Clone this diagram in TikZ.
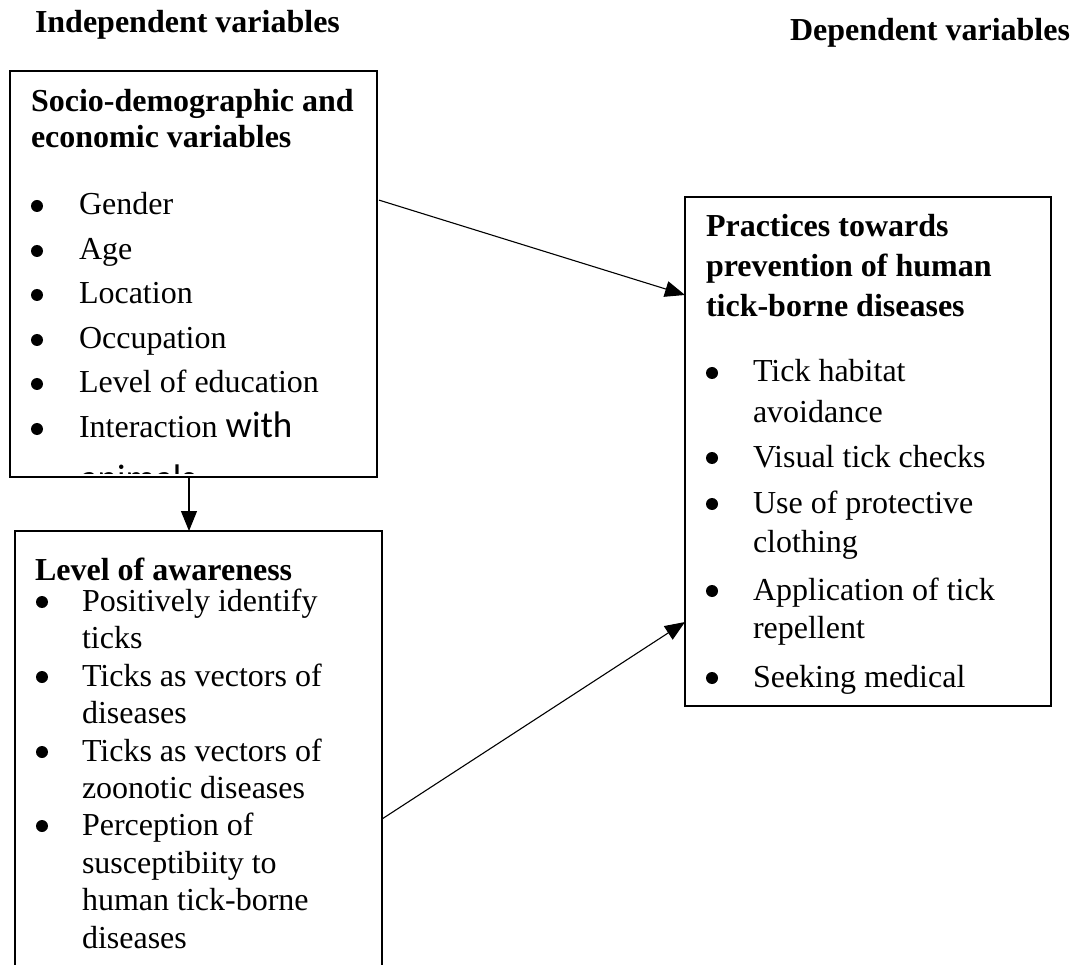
\documentclass[tikz,border=0pt]{standalone}
\usepackage{fontspec}
\setmainfont{Liberation Serif}
\newfontfamily\calib{Carlito}
\usetikzlibrary{arrows.meta,calc}
\begin{document}
\begin{tikzpicture}[x=1pt,y=-1pt,
  box/.style={draw, line width=1.2pt, rectangle, anchor=north west, inner sep=0pt, outer sep=0pt},
  txt/.style={anchor=base west, inner sep=0pt, outer sep=0pt, font=\fontsize{32}{38}\selectfont},
  ttl/.style={anchor=base west, inner sep=0pt, outer sep=0pt, font=\fontsize{32}{38}\selectfont\bfseries},
  bul/.style={circle, fill=black, inner sep=0pt, minimum size=12pt},
  arr/.style={-{Triangle[length=20pt,width=16pt]}, line width=1.1pt}]
\useasboundingbox (0,0) rectangle (1079,965);

% headers
\node[ttl] (hind) at (35,33) {Independent variables};
\node[ttl, anchor=base east] (hdep) at (1070,41) {Dependent variables};

% boxes
\node[box, minimum width=367pt, minimum height=406pt] (sde) at (10,71) {};
\node[box, minimum width=367pt, minimum height=450pt] (aware) at (15,531) {};
\node[box, minimum width=366pt, minimum height=509pt] (prac) at (685,197) {};

% top box text
\node[ttl] (s1) at (31,112) {Socio-demographic and};
\node[ttl] (s2) at (31,148) {economic variables};
\node[bul] (sb1) at (37,206) {};
\node[txt] (st1) at (79,215) {Gender};
\node[bul] (sb2) at (37,251) {};
\node[txt] (st2) at (79,260) {Age};
\node[bul] (sb3) at (37,295) {};
\node[txt] (st3) at (79,304) {Location};
\node[bul] (sb4) at (37,340) {};
\node[txt] (st4) at (79,349) {Occupation};
\node[bul] (sb5) at (37,384) {};
\node[txt] (st5) at (79,393) {Level of education};
\node[bul] (sb6) at (37,429) {};
\node[txt] (st6) at (79,438) {Interaction {\calib\fontsize{37}{44}\selectfont with}};
\begin{scope}
\clip (10,71) rectangle (377,473);
\node[txt] (st7) at (80,490) {\calib\fontsize{37}{44}\selectfont animals};
\end{scope}

% bottom box text
\node[ttl] (a0) at (35,580) {Level of awareness};
\node[bul] (ab1) at (42,602) {};
\node[txt] (at1) at (82,611) {Positively identify};
\node[txt] (at2) at (82,648) {ticks};
\node[bul] (ab2) at (42,677) {};
\node[txt] (at3) at (82,686) {Ticks as vectors of};
\node[txt] (at4) at (82,723) {diseases};
\node[bul] (ab3) at (42,752) {};
\node[txt] (at5) at (82,761) {Ticks as vectors of};
\node[txt] (at6) at (82,798) {zoonotic diseases};
\node[bul] (ab4) at (42,826) {};
\node[txt] (at7) at (82,835) {Perception of};
\node[txt] (at8) at (82,873) {susceptibiity to};
\node[txt] (at9) at (82,910) {human tick-borne};
\node[txt] (at10) at (82,948) {diseases};

% right box text
\node[ttl] (p1) at (706,237) {Practices towards};
\node[ttl] (p2) at (706,277) {prevention of human};
\node[ttl] (p3) at (706,317) {tick-borne diseases};
\node[bul] (pb1) at (712,373) {};
\node[txt] (pt1) at (753,382) {Tick habitat};
\node[txt] (pt2) at (753,422) {avoidance};
\node[bul] (pb2) at (712,458) {};
\node[txt] (pt3) at (753,467) {Visual tick checks};
\node[bul] (pb3) at (712,504) {};
\node[txt] (pt4) at (753,513) {Use of protective};
\node[txt] (pt5) at (753,552) {clothing};
\node[bul] (pb4) at (712,591) {};
\node[txt] (pt6) at (753,600) {Application of tick};
\node[txt] (pt7) at (753,638) {repellent};
\node[bul] (pb5) at (712,678) {};
\node[txt] (pt8) at (753,687) {Seeking medical};

% connectors
\draw[arr] ($(sde.north east)!0.318!(sde.south east)+(2,0)$) -- ($(prac.north west)!0.1925!(prac.south west)$);
\draw[arr] ($(aware.north east)!0.64!(aware.south east)$) -- ($(prac.north west)!0.835!(prac.south west)$);
\draw[arr] ($(sde.south west)+(179,0)$) -- ($(aware.north west)+(174,0)$);
\end{tikzpicture}
\end{document}
